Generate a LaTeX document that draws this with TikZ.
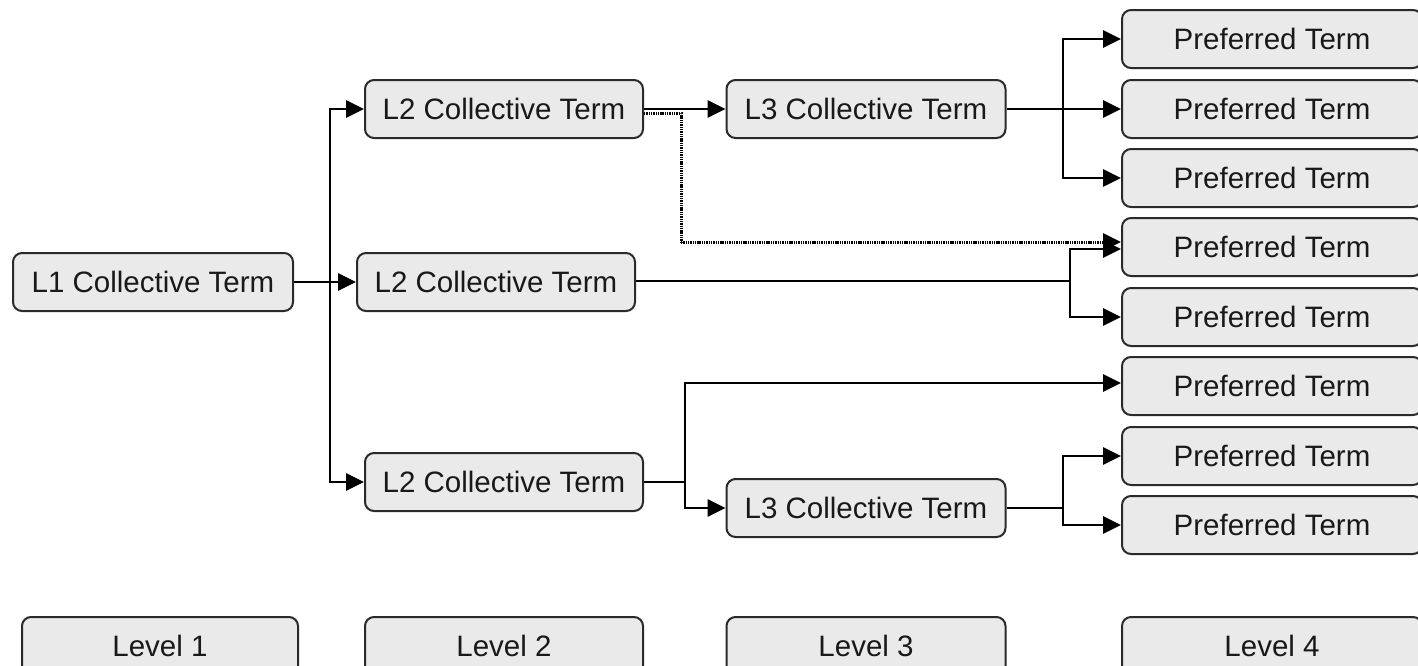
\documentclass[tikz,border=0pt]{standalone}
\usepackage{fontspec}
\setmainfont{Liberation Sans}
\usetikzlibrary{arrows.meta}
\definecolor{boxfill}{HTML}{EAEAEA}
\definecolor{boxline}{HTML}{2A2A2A}
\tikzset{
  termbox/.style={draw=boxline, line width=2pt, fill=boxfill, rounded corners=9pt,
    minimum height=58pt, inner sep=0pt, font=\fontsize{29.5}{34}\selectfont, text=black!90},
  narrow/.style={termbox, minimum width=278pt},
  wide/.style={termbox, minimum width=300pt},
  link/.style={line width=2.8pt, black},
  arr/.style={link, -{Triangle[length=18pt,width=17pt]}},
  dotlink/.style={line width=3pt, black, dash pattern=on 1.4pt off 0.9pt},
}
\begin{document}
\begin{tikzpicture}[x=1pt,y=-1pt]
\useasboundingbox (0,0) rectangle (1418,665);
\begin{scope}
\clip (0,0) rectangle (1418,665);
% nodes
\node[narrow, minimum width=280pt] (l1) at (153,282) {L1 Collective Term};
\node[narrow] (l2a) at (504,109) {L2 Collective Term};
\node[narrow] (l2b) at (496,282) {L2 Collective Term};
\node[narrow] (l2c) at (504,482) {L2 Collective Term};
\node[narrow, minimum width=279pt] (l3a) at (866,109) {L3 Collective Term};
\node[narrow, minimum width=279pt] (l3b) at (866,508) {L3 Collective Term};
\node[wide] (p1) at (1272,39) {Preferred Term};
\node[wide] (p2) at (1272,109) {Preferred Term};
\node[wide] (p3) at (1272,178) {Preferred Term};
\node[wide] (p4) at (1272,247) {Preferred Term};
\node[wide] (p5) at (1272,317) {Preferred Term};
\node[wide] (p6) at (1272,386) {Preferred Term};
\node[wide] (p7) at (1272,456) {Preferred Term};
\node[wide] (p8) at (1272,525) {Preferred Term};
\node[narrow, minimum width=276pt] (lv1) at (160,646) {Level 1};
\node[narrow] (lv2) at (504,646) {Level 2};
\node[narrow, minimum width=279pt] (lv3) at (866,646) {Level 3};
\node[wide] (lv4) at (1272,646) {Level 4};
% coordinates
\coordinate (t) at (330,282);
\coordinate (da) at (681,113);
\coordinate (ja) at (1063,109);
\coordinate (jb) at (1070,281);
\coordinate (jc) at (685,482);
\coordinate (jd) at (1063,508);
% connectors
\draw[link] (l1.east) -- (t);
\draw[arr] (t) -- (l2b.west);
\draw[arr] (t) -- (t |- l2a.west) -- (l2a.west);
\draw[arr] (t) -- (t |- l2c.west) -- (l2c.west);
\draw[arr] (l2a.east) -- (l3a.west);
\draw[dotlink] (l2a.east |- da) -- (da) -- (da |- 0,242);
\draw[dotlink, -{Triangle[length=18pt,width=17pt]}] (da |- 0,242) -- (p4.west |- 0,242);
\draw[link] (l3a.east) -- (ja);
\draw[arr] (ja) -- (ja |- p1.west) -- (p1.west);
\draw[arr] (ja) -- (p2.west);
\draw[arr] (ja) -- (ja |- p3.west) -- (p3.west);
\draw[link] (l2b.east |- jb) -- (jb);
\draw[arr] (jb) -- (jb |- 0,249) -- (p4.west |- 0,249);
\draw[arr] (jb) -- (jb |- p5.west) -- (p5.west);
\draw[link] (l2c.east) -- (jc);
\draw[arr] (jc) -- (jc |- 0,383) -- (p6.west |- 0,383);
\draw[arr] (jc) -- (jc |- l3b.west) -- (l3b.west);
\draw[link] (l3b.east) -- (jd);
\draw[arr] (jd) -- (jd |- p7.west) -- (p7.west);
\draw[arr] (jd) -- (jd |- p8.west) -- (p8.west);
\end{scope}
\end{tikzpicture}
\end{document}
